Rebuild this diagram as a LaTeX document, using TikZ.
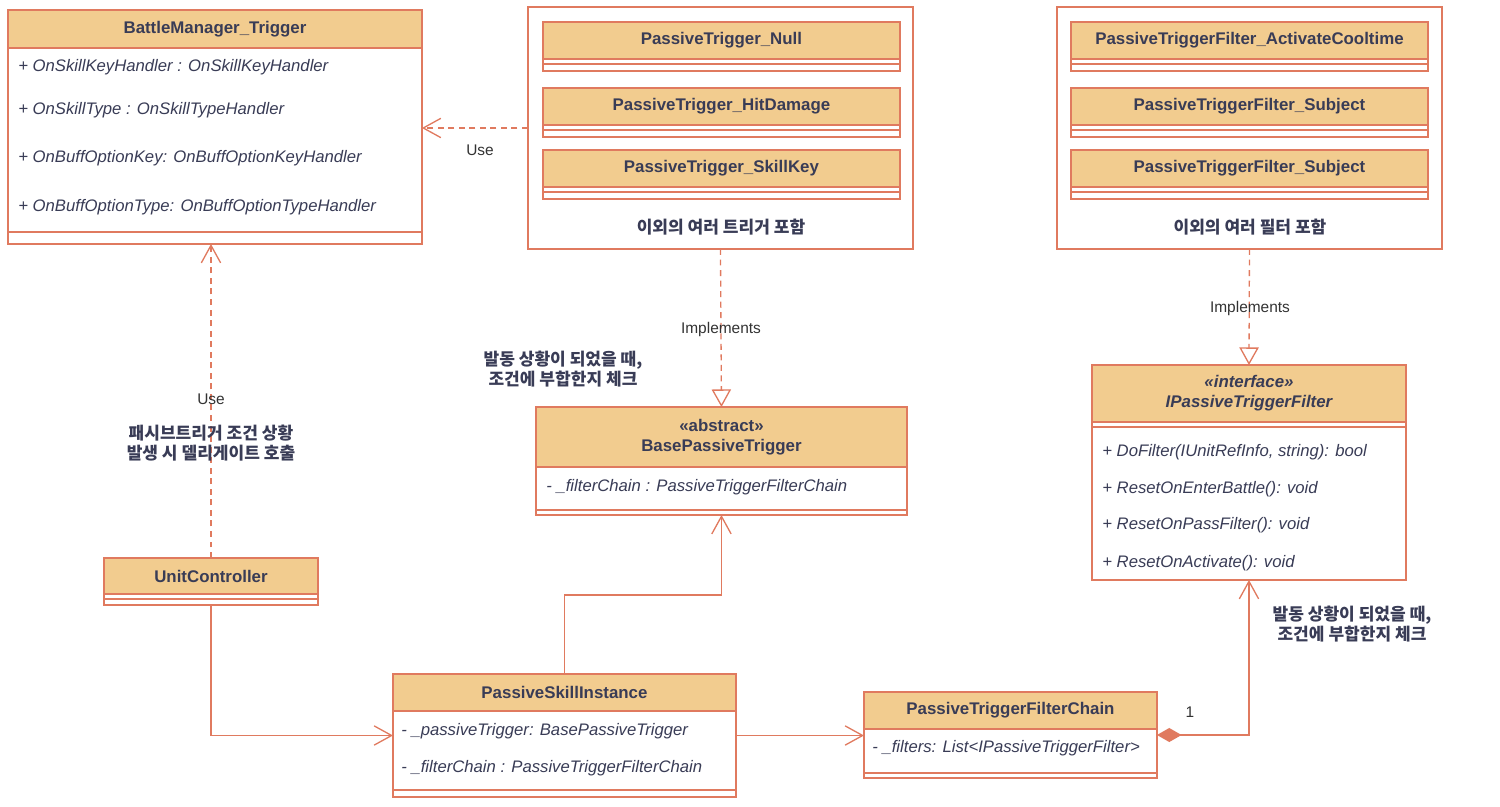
\documentclass[tikz,border=0pt]{standalone}
\usepackage{fontspec}
\setmainfont{Liberation Sans}
\newfontfamily\kofont{Noto Sans CJK KR}
\usetikzlibrary{arrows.meta, positioning}
\definecolor{umlline}{HTML}{E07A5F}
\definecolor{umlfill}{HTML}{F2CC8F}
\definecolor{umltext}{HTML}{393C56}
\begin{document}
\begin{tikzpicture}[x=0.02cm, y=-0.02cm, text=umltext,
    cls/.style={draw=umlline, line width=0.75pt, fill=white, anchor=north west,
                inner sep=0pt, outer sep=0pt},
    hd/.style={cls, fill=umlfill, align=center,
               font=\bfseries\fontsize{9.6}{11.3}\selectfont},
    attr/.style={anchor=west, inner sep=0pt, font=\itshape\fontsize{9.5}{11.3}\selectfont},
    lbl/.style={inner sep=0pt, text=black!80, font=\fontsize{8.8}{10.5}\selectfont},
    note/.style={inner sep=0pt, align=center, font=\kofont\bfseries\fontsize{9.7}{11.8}\selectfont},
    rel/.style={draw=umlline, line width=0.75pt},
    dep/.style={rel, dash pattern=on 3.4pt off 2.6pt},
    usetip/.style={-{Straight Barb[length=10pt, width=11pt, line width=0.75pt]}},
    impltip/.style={-{Triangle[open, length=10pt, width=11pt, fill=white, line width=0.75pt]}},
    parttip/.style={{Diamond[length=14pt, width=8pt, fill=umlline]}-{Straight Barb[length=10pt, width=11pt, line width=0.75pt]}}]
  \useasboundingbox (0,0) rectangle (1500,806);

  % BattleManager_Trigger
  \node[cls, minimum width=8.28cm, minimum height=4.68cm] (bmt) at (8,10) {};
  \node[hd, minimum width=8.28cm, minimum height=0.76cm] (bmthd) at (bmt.north west) {BattleManager\_Trigger};
  \draw[rel] ([yshift=0.24cm]bmt.south west) -- ([yshift=0.24cm]bmt.south east);
  \node[attr] (bmta) at (18,67) {+ OnSkillKeyHandler : OnSkillKeyHandler};
  \node[attr] (bmtb) at (18,110) {+ OnSkillType : OnSkillTypeHandler};
  \node[attr] (bmtc) at (18,158) {+ OnBuffOptionKey: OnBuffOptionKeyHandler};
  \node[attr] (bmtd) at (18,207) {+ OnBuffOptionType: OnBuffOptionTypeHandler};

  % triggers group
  \node[cls, minimum width=7.7cm, minimum height=4.84cm] (trggrp) at (528,7) {};
  \node[cls, minimum width=7.14cm, minimum height=0.98cm] (trgnull) at (543,22) {};
  \node[hd, minimum width=7.14cm, minimum height=0.74cm] at (trgnull.north west) {PassiveTrigger\_Null};
  \draw[rel] (543,64) -- (900,64);
  \node[cls, minimum width=7.14cm, minimum height=0.98cm] (trghit) at (543,88) {};
  \node[hd, minimum width=7.14cm, minimum height=0.74cm] at (trghit.north west) {PassiveTrigger\_HitDamage};
  \draw[rel] (543,130) -- (900,130);
  \node[cls, minimum width=7.14cm, minimum height=0.98cm] (trgkey) at (543,150) {};
  \node[hd, minimum width=7.14cm, minimum height=0.74cm] at (trgkey.north west) {PassiveTrigger\_SkillKey};
  \draw[rel] (543,192) -- (900,192);
  \node[note] (trgmore) at (721,227) {이외의 여러 트리거 포함};

  % filters group
  \node[cls, minimum width=7.7cm, minimum height=4.84cm] (fltgrp) at (1057,7) {};
  \node[cls, minimum width=7.14cm, minimum height=0.98cm] (fltcool) at (1071,22) {};
  \node[hd, minimum width=7.14cm, minimum height=0.74cm] at (fltcool.north west) {PassiveTriggerFilter\_ActivateCooltime};
  \draw[rel] (1071,64) -- (1428,64);
  \node[cls, minimum width=7.14cm, minimum height=0.98cm] (fltsubj) at (1071,88) {};
  \node[hd, minimum width=7.14cm, minimum height=0.74cm] at (fltsubj.north west) {PassiveTriggerFilter\_Subject};
  \draw[rel] (1071,130) -- (1428,130);
  \node[cls, minimum width=7.14cm, minimum height=0.98cm] (fltsubjb) at (1071,150) {};
  \node[hd, minimum width=7.14cm, minimum height=0.74cm] at (fltsubjb.north west) {PassiveTriggerFilter\_Subject};
  \draw[rel] (1071,192) -- (1428,192);
  \node[note] (fltmore) at (1250,227) {이외의 여러 필터 포함};

  % BasePassiveTrigger
  \node[cls, minimum width=7.42cm, minimum height=2.16cm] (bpt) at (536,407) {};
  \node[hd, minimum width=7.42cm, minimum height=1.2cm] (bpthd) at (bpt.north west) {«abstract»\\BasePassiveTrigger};
  \draw[rel] ([yshift=0.1cm]bpt.south west) -- ([yshift=0.1cm]bpt.south east);
  \node[attr] (bpta) at (546,487) {- \_filterChain : PassiveTriggerFilterChain};

  % IPassiveTriggerFilter
  \node[cls, minimum width=6.28cm, minimum height=4.3cm] (iptf) at (1092,365) {};
  \node[hd, minimum width=6.28cm, minimum height=1.14cm, font=\bfseries\itshape\fontsize{9.6}{11.3}\selectfont]
    (iptfhd) at (iptf.north west) {«interface»\\IPassiveTriggerFilter};
  \draw[rel] ([yshift=-0.1cm]iptfhd.south west) -- ([yshift=-0.1cm]iptfhd.south east);
  \node[attr] (iptfa) at (1102,452) {+ DoFilter(IUnitRefInfo, string): bool};
  \node[attr] (iptfb) at (1102,489) {+ ResetOnEnterBattle(): void};
  \node[attr] (iptfc) at (1102,525) {+ ResetOnPassFilter(): void};
  \node[attr] (iptfd) at (1102,563) {+ ResetOnActivate(): void};

  % UnitController
  \node[cls, minimum width=4.28cm, minimum height=0.94cm] (uc) at (104,558) {};
  \node[hd, minimum width=4.28cm, minimum height=0.72cm] (uchd) at (uc.north west) {UnitController};
  \draw[rel] ([yshift=-0.1cm]uchd.south west) -- ([yshift=-0.1cm]uchd.south east);

  % PassiveSkillInstance
  \node[cls, minimum width=6.86cm, minimum height=2.46cm] (psi) at (393,674) {};
  \node[hd, minimum width=6.86cm, minimum height=0.74cm] (psihd) at (psi.north west) {PassiveSkillInstance};
  \draw[rel] ([yshift=0.14cm]psi.south west) -- ([yshift=0.14cm]psi.south east);
  \node[attr] (psia) at (401,731) {- \_passiveTrigger: BasePassiveTrigger};
  \node[attr] (psib) at (401,768) {- \_filterChain : PassiveTriggerFilterChain};

  % PassiveTriggerFilterChain
  \node[cls, minimum width=5.86cm, minimum height=1.72cm] (ptfc) at (864,692) {};
  \node[hd, minimum width=5.86cm, minimum height=0.74cm] (ptfchd) at (ptfc.north west) {PassiveTriggerFilterChain};
  \draw[rel] ([yshift=0.1cm]ptfc.south west) -- ([yshift=0.1cm]ptfc.south east);
  \node[attr] (ptfca) at (872,748) {- \_filters: List<IPassiveTriggerFilter>};

  % connectors
  \draw[dep, usetip] (trggrp.west) -- (trggrp.west -| bmt.east);
  \node[lbl] (usea) at (480,150) {Use};
  \draw[dep, impltip] (trggrp.south) -- (bpt.north);
  \node[lbl] (impla) at (721,329) {Implements};
  \draw[dep, impltip] (fltgrp.south) -- (iptf.north);
  \node[lbl] (implb) at (1250,308) {Implements};
  \draw[dep, usetip] (uc.north) -- (uc.north |- bmt.south);
  \node[lbl] (useb) at (211,399) {Use};
  \node[note] (ucnote) at (211,443) {패시브트리거 조건 상황\\발생 시 델리게이트 호출};
  \node[note] (bptnote) at (563,369) {발동 상황이 되었을 때,\\조건에 부합한지 체크};
  \draw[rel, usetip] (uc.south) |- (psi.west);
  \draw[rel, usetip] (psi.north) -- ++(0,-79) -| (bpt.south);
  \draw[rel, usetip] (psi.east) -- (psi.east -| ptfc.west);
  \draw[rel, parttip] (ptfc.east) -| (iptf.south);
  \node[lbl] (mult) at (1190,712) {1};
  \node[note] (iptfnote) at (1352,624) {발동 상황이 되었을 때,\\조건에 부합한지 체크};
\end{tikzpicture}
\end{document}
